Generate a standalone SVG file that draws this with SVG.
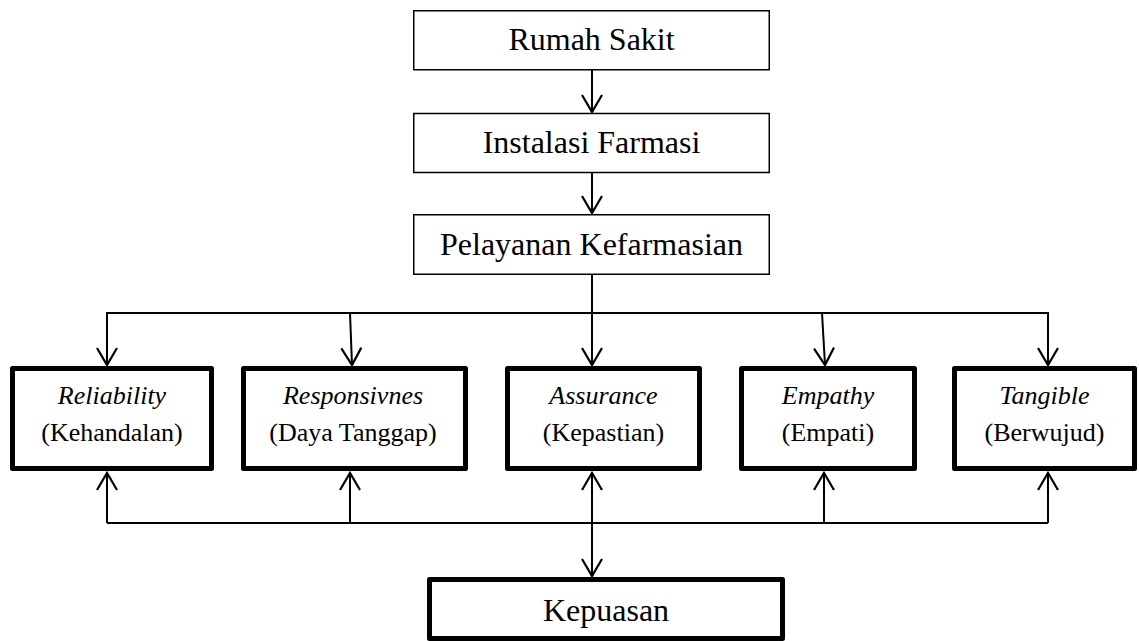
<svg xmlns="http://www.w3.org/2000/svg" width="1139" height="641" viewBox="0 0 1139 641">
<style>
.bg{fill:#fff}
.thin{fill:#fff;stroke:#000;stroke-width:1.5}
.thick{fill:#fff;stroke:#000;stroke-width:5;stroke-linejoin:round}
text{font-family:'Liberation Serif','Times New Roman',Times,serif;fill:#000;text-anchor:middle}
.big{font-size:32px}
.mid{font-size:26px}
.it{font-style:italic}
.ln{fill:none;stroke:#000;stroke-width:2}
</style>
<defs>
<marker id="ah" viewBox="-20 -12 24 24" refX="0" refY="0" markerWidth="24" markerHeight="24" markerUnits="userSpaceOnUse" orient="auto">
<path d="M-17,-10 L0,0 L-17,10" fill="none" stroke="#000" stroke-width="2.2"/>
</marker>
</defs>
<rect class="bg" x="0" y="0" width="1139" height="641"/>
<g id="connectors">
<line class="ln" x1="592" y1="70" x2="592" y2="112" marker-end="url(#ah)"/>
<line class="ln" x1="592" y1="173" x2="592" y2="213" marker-end="url(#ah)"/>
<line class="ln" x1="592" y1="275" x2="592" y2="365" marker-end="url(#ah)"/>
<polyline class="ln" points="107,365 107,313 1048,313 1048,365" marker-end="url(#ah)"/>
<line class="ln" x1="107" y1="313" x2="107" y2="365" marker-end="url(#ah)"/>
<line class="ln" x1="350" y1="313" x2="352" y2="365" marker-end="url(#ah)"/>
<line class="ln" x1="822" y1="313" x2="825" y2="365" marker-end="url(#ah)"/>
<line class="ln" x1="107" y1="523" x2="1048" y2="523"/>
<line class="ln" x1="107" y1="523" x2="107" y2="473" marker-end="url(#ah)"/>
<line class="ln" x1="350" y1="523" x2="350" y2="473" marker-end="url(#ah)"/>
<line class="ln" x1="592" y1="523" x2="592" y2="473" marker-end="url(#ah)"/>
<line class="ln" x1="824" y1="523" x2="824" y2="473" marker-end="url(#ah)"/>
<line class="ln" x1="1048" y1="523" x2="1048" y2="473" marker-end="url(#ah)"/>
<line class="ln" x1="592" y1="523" x2="592" y2="576" marker-end="url(#ah)"/>
</g>
<g id="rumah-sakit">
<rect class="thin" x="413.75" y="10.75" width="355.5" height="59"/>
<text class="big" x="591.5" y="50">Rumah Sakit</text>
</g>
<g id="instalasi-farmasi">
<rect class="thin" x="413.75" y="113.5" width="355.5" height="59"/>
<text class="big" x="591.5" y="153">Instalasi Farmasi</text>
</g>
<g id="pelayanan-kefarmasian">
<rect class="thin" x="413.75" y="214.75" width="355.5" height="59.5"/>
<text class="big" x="591.5" y="255">Pelayanan Kefarmasian</text>
</g>
<g id="reliability">
<rect class="thick" x="12.5" y="368.5" width="199" height="100"/>
<text class="mid it" x="112" y="404">Reliability</text>
<text class="mid" x="112" y="441">(Kehandalan)</text>
</g>
<g id="responsivnes">
<rect class="thick" x="243.5" y="368.5" width="222" height="100"/>
<text class="mid it" x="353" y="404">Responsivnes</text>
<text class="mid" x="353" y="441">(Daya Tanggap)</text>
</g>
<g id="assurance">
<rect class="thick" x="507.5" y="368.5" width="192" height="100"/>
<text class="mid it" x="603.5" y="404">Assurance</text>
<text class="mid" x="603.5" y="441">(Kepastian)</text>
</g>
<g id="empathy">
<rect class="thick" x="741.5" y="368.5" width="173" height="100"/>
<text class="mid it" x="828" y="404">Empathy</text>
<text class="mid" x="828" y="441">(Empati)</text>
</g>
<g id="tangible">
<rect class="thick" x="954.5" y="368.5" width="180" height="100"/>
<text class="mid it" x="1044.5" y="404">Tangible</text>
<text class="mid" x="1044.5" y="441">(Berwujud)</text>
</g>
<g id="kepuasan">
<rect class="thick" x="429.5" y="579.5" width="353" height="59"/>
<text class="big" x="606" y="621">Kepuasan</text>
</g>
</svg>
